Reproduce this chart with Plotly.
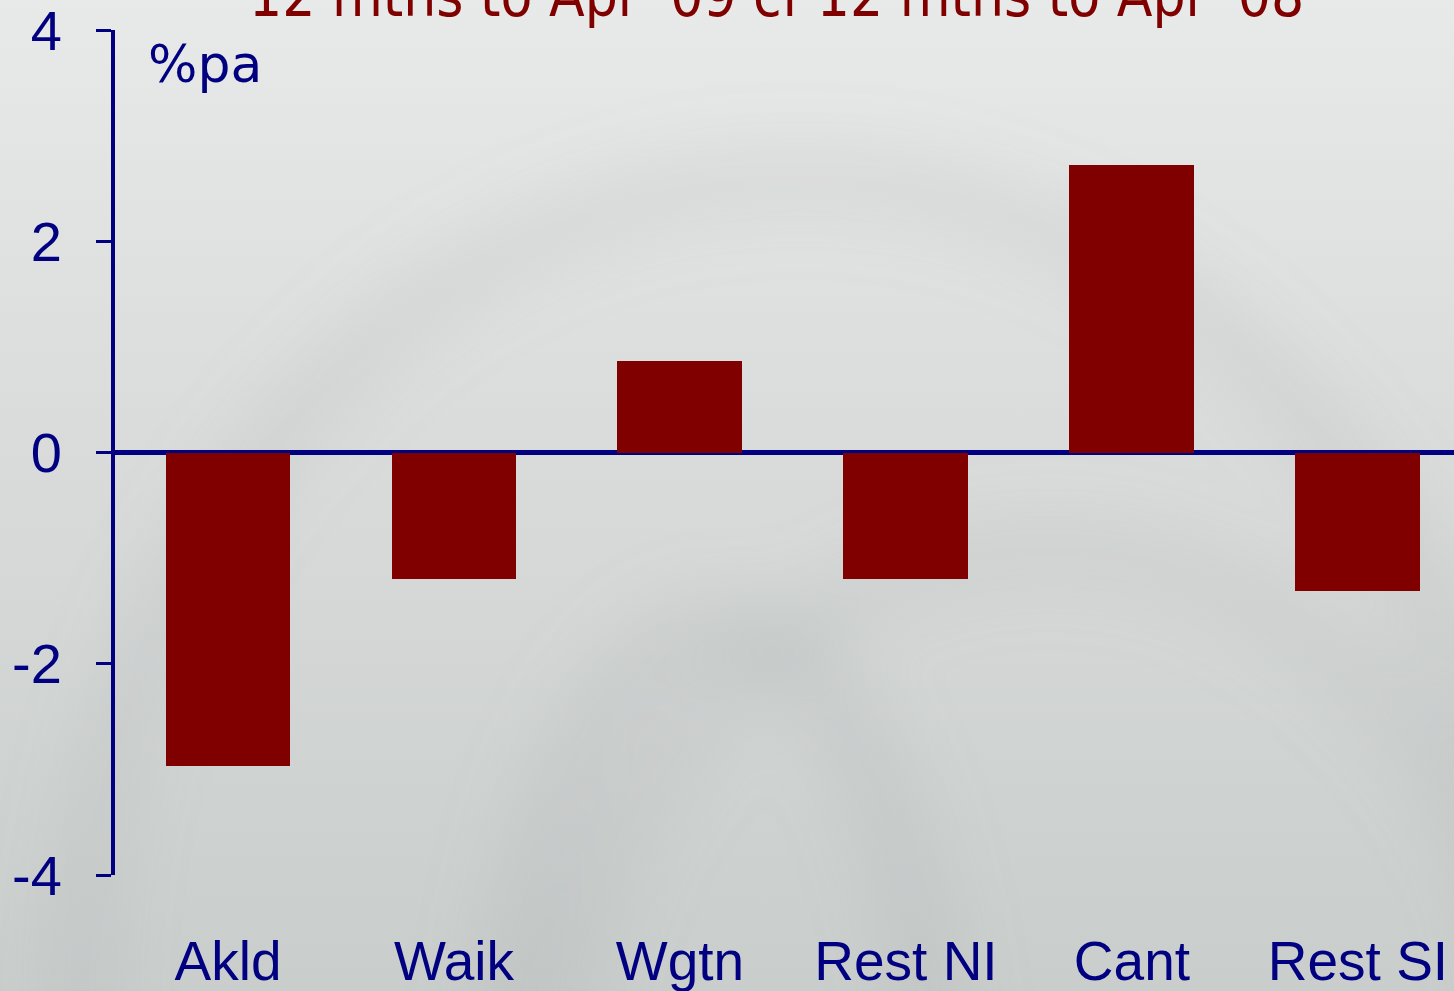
import base64

import plotly.graph_objects as go

regions = ["Akld", "Waik", "Wgtn", "Rest NI", "Cant", "Rest SI"]
change_pa = [-2.97, -1.20, 0.87, -1.20, 2.72, -1.31]
y_ticks = [-4, -2, 0, 2, 4]
y_tick_text = ["-4", "-2", "0", "2", "4"]

NAVY = "#000080"
MAROON = "#800000"

# soft grey backdrop with faint swirl arcs
svg = """<svg xmlns='http://www.w3.org/2000/svg' width='1454' height='991' viewBox='0 0 1454 991'>
<defs>
<linearGradient id='g' x1='0' y1='0' x2='0' y2='1'>
<stop offset='0' stop-color='#e8eae9'/>
<stop offset='0.4' stop-color='#dadddc'/>
<stop offset='1' stop-color='#c9cdcc'/>
</linearGradient>
<filter id='b'><feGaussianBlur stdDeviation='35'/></filter>
</defs>
<rect width='1454' height='991' fill='url(#g)'/>
<g filter='url(#b)' fill='none' stroke-opacity='0.22'>
<ellipse cx='800' cy='1000' rx='720' ry='820' stroke='#a0a5a5' stroke-width='50'/>
<ellipse cx='720' cy='1150' rx='220' ry='520' stroke='#9ea3a3' stroke-width='60'/>
<ellipse cx='1050' cy='1150' rx='500' ry='600' stroke='#a8adad' stroke-width='50'/>
</g>
</svg>"""
bg_uri = "data:image/svg+xml;base64," + base64.b64encode(svg.encode()).decode()

fig = go.Figure()
fig.add_trace(
    go.Bar(
        x=regions,
        y=change_pa,
        width=0.553,
        marker=dict(color=MAROON, line=dict(width=0)),
        showlegend=False,
    )
)

fig.add_layout_image(
    dict(
        source=bg_uri,
        xref="paper",
        yref="paper",
        x=-115 / 1339,
        y=1 + 30 / 845,
        sizex=1454 / 1339,
        sizey=991 / 845,
        xanchor="left",
        yanchor="top",
        sizing="stretch",
        layer="below",
    )
)

fig.add_annotation(
    text="%pa",
    xref="paper",
    yref="paper",
    x=31 / 1339,
    y=(875 - 64) / 845,
    xanchor="left",
    yanchor="middle",
    showarrow=False,
    font=dict(family="DejaVu Sans", size=52, color=NAVY),
)

# chart title, partly above the top edge as in the source slide
fig.add_annotation(
    text="12 mths to Apr '09 cf 12 mths to Apr '08",
    xref="paper",
    yref="paper",
    x=(776 - 115) / 1339,
    y=(875 + 4) / 845,
    xanchor="center",
    yanchor="middle",
    showarrow=False,
    font=dict(family="DejaVu Sans Condensed, Liberation Sans Narrow, sans-serif", size=58, color=MAROON),
)

fig.update_layout(
    width=1454,
    height=991,
    margin=dict(l=115, r=0, t=30, b=116),
    paper_bgcolor="#d9dcdb",
    plot_bgcolor="rgba(0,0,0,0)",
    bargap=0,
)

fig.update_xaxes(
    range=[-0.5, 5.425],
    automargin=False,
    showline=False,
    showgrid=False,
    ticks="",
    ticklabelstandoff=49,
    tickfont=dict(family="Liberation Sans", size=55, color=NAVY),
)

fig.update_yaxes(
    range=[-4, 4],
    automargin=False,
    tickvals=y_ticks,
    ticktext=y_tick_text,
    ticklabeloverflow="allow",
    showline=True,
    linecolor=NAVY,
    linewidth=4,
    showgrid=False,
    zeroline=True,
    zerolinecolor=NAVY,
    zerolinewidth=5,
    ticks="outside",
    ticklen=15,
    tickwidth=3,
    tickcolor=NAVY,
    ticklabelstandoff=23,
    tickfont=dict(family="Liberation Sans", size=56, color=NAVY),
)

fig.write_html(
    "out.html",
    config={"displayModeBar": False},
    post_script="document.body.style.margin='0';",
)
